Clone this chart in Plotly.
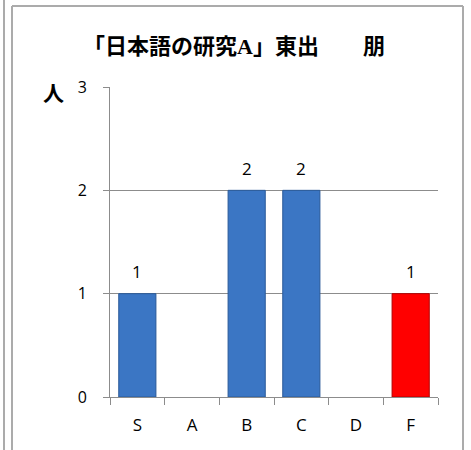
import plotly.graph_objects as go

categories = ["S", "A", "B", "C", "D", "F"]
counts = [1, 0, 2, 2, 0, 1]
bar_colors = ["#3B76C4", "#3B76C4", "#3B76C4", "#3B76C4", "#3B76C4", "#FF0000"]
line_colors = ["#2A5A98", "#2A5A98", "#2A5A98", "#2A5A98", "#2A5A98", "#B00000"]
y_ticks = [0, 1, 2, 3]
title_text = "「日本語の研究<span style=\"font-family:'Liberation Serif'\">A</span>」東出　　朋"
y_unit = "人"

W, H = 471, 450
L, R, T, B = 110, 33, 87, 53
pw, ph = W - L - R, H - T - B

def px_x(x):
    return (x - L) / pw

def px_y(y):
    return (H - B - y) / ph

fig = go.Figure()
fig.add_trace(go.Bar(
    x=categories, y=counts,
    marker=dict(color=bar_colors,
                line=dict(color=line_colors, width=[1 if v > 0 else 0 for v in counts])),
    width=0.68,
))

for c, v in zip(categories, counts):
    if v > 0:
        fig.add_annotation(x=c, y=v, text=str(v), showarrow=False, yshift=22,
                           font=dict(size=17, color="#000000", family="Open Sans"))

fig.add_annotation(xref="paper", yref="paper", x=px_x(234), y=px_y(44), text="<b>" + title_text + "</b>",
                   showarrow=False, font=dict(size=22, color="#000000", family="Noto Sans CJK JP"),
                   xanchor="center", yanchor="middle")
fig.add_annotation(xref="paper", yref="paper", x=px_x(53), y=px_y(92), text="<b>" + y_unit + "</b>",
                   showarrow=False, font=dict(size=21, color="#000000", family="Noto Sans CJK JP"),
                   xanchor="center", yanchor="middle")

frame = dict(color="#ABABAB", width=2)
fig.add_shape(type="line", xref="paper", yref="paper", x0=px_x(4), x1=px_x(4), y0=px_y(-5), y1=px_y(460), line=frame)
fig.add_shape(type="line", xref="paper", yref="paper", x0=px_x(12), x1=px_x(12), y0=px_y(6), y1=px_y(460), line=frame)
fig.add_shape(type="line", xref="paper", yref="paper", x0=px_x(463), x1=px_x(463), y0=px_y(6), y1=px_y(460), line=frame)
fig.add_shape(type="line", xref="paper", yref="paper", x0=px_x(12), x1=px_x(463), y0=px_y(6), y1=px_y(6), line=frame)

fig.update_layout(
    width=W, height=H,
    margin=dict(l=L, r=R, t=T, b=B),
    plot_bgcolor="white", paper_bgcolor="white",
    showlegend=False,
    font=dict(family="Open Sans", size=16, color="#000000"),
    xaxis=dict(
        showgrid=False, showline=True, linecolor="#8C8C8C", linewidth=1,
        ticks="outside", ticklen=7, tickcolor="#8C8C8C", tickson="boundaries",
        ticklabelstandoff=13, tickfont=dict(size=17),
    ),
    yaxis=dict(
        range=[0, 3], tickvals=y_ticks, showgrid=True, gridcolor="#8C8C8C", gridwidth=1,
        showline=True, linecolor="#8C8C8C", linewidth=1, zeroline=False,
        ticks="outside", ticklen=6, tickcolor="#8C8C8C", ticklabelstandoff=13,
        tickfont=dict(size=16),
    ),
)

fig.write_html("out.html", config={"displayModeBar": False},
               post_script="document.body.style.margin='0';document.body.style.padding='0';")
